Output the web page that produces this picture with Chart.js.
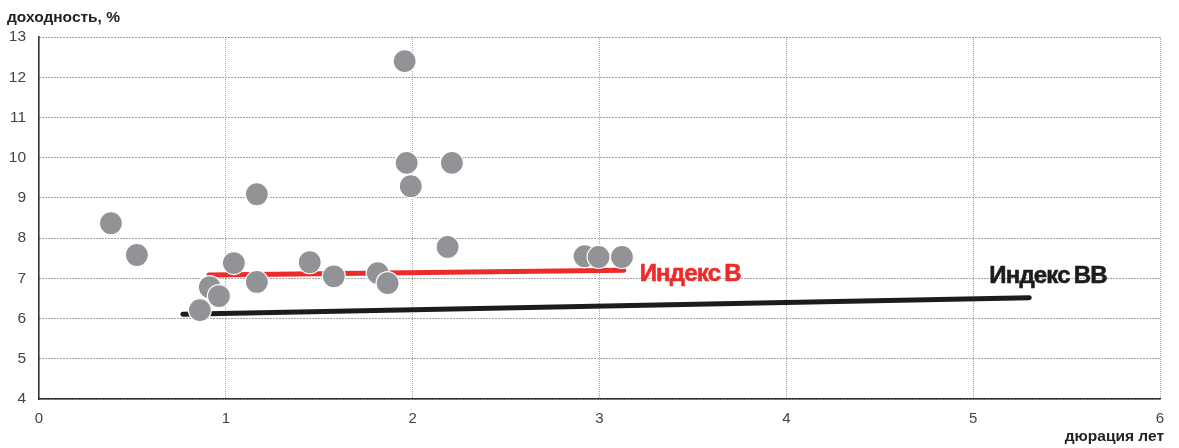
<!DOCTYPE html>
<html>
<head>
<meta charset="utf-8">
<script src="https://cdn.jsdelivr.net/npm/chart.js@4.4.1/dist/chart.umd.min.js"></script>
<style>
  html, body { margin: 0; padding: 0; background: #fff; }
  #wrap { width: 1179px; height: 448px; }
</style>
</head>
<body>
<div id="wrap"><canvas id="c" width="1179" height="448"></canvas></div>
<script>
// Bonds: duration (years) and yield (%)
const durations = [0.385, 0.524, 1.957, 1.968, 2.21, 1.99, 1.166, 2.187, 1.043, 1.449, 1.578, 1.813, 1.866, 1.166, 0.914, 0.963, 0.861, 2.92, 2.995, 3.12];
const yields    = [8.37, 7.58, 12.40, 9.87, 9.87, 9.29, 9.09, 7.78, 7.38, 7.40, 7.05, 7.13, 6.88, 6.91, 6.78, 6.56, 6.21, 7.55, 7.53, 7.53];

// Index curves (start and end points)
const indexBx = [0.91, 3.13];
const indexBy = [7.08, 7.20];
const indexBBx = [0.77, 5.30];
const indexBBy = [6.11, 6.52];

const xTicks = [0, 1, 2, 3, 4, 5, 6];
const yTicks = [4, 5, 6, 7, 8, 9, 10, 11, 12, 13];

const labelB = { word: 'Индекс', tail: 'B', x: 3.215, y: 7.09, color: '#ee2b2b' };
const labelBB = { word: 'Индекс', tail: 'BB', x: 5.086, y: 7.05, color: '#1c1c1c' };

const toPoints = (xs, ys) => xs.map((x, i) => ({ x, y: ys[i] }));

const textPlugin = {
  id: 'texts',
  afterDatasetsDraw(chart) {
    const { ctx, scales: { x, y } } = chart;
    ctx.save();
    ctx.textBaseline = 'middle';
    ctx.textAlign = 'left';
    ctx.font = 'bold 24px "Liberation Sans", Arial, sans-serif';
    ctx.lineJoin = 'round';
    try { ctx.letterSpacing = '-0.8px'; } catch (e) {}
    [labelB, labelBB].forEach(l => {
      const px = x.getPixelForValue(l.x), py = y.getPixelForValue(l.y);
      ctx.fillStyle = l.color;
      ctx.strokeStyle = l.color;
      ctx.lineWidth = 0.6;
      // the index name is set with a narrow gap before its rating letters
      const w = ctx.measureText(l.word).width;
      ctx.fillText(l.word, px, py);
      ctx.strokeText(l.word, px, py);
      ctx.fillText(l.tail, px + w + 4, py);
      ctx.strokeText(l.tail, px + w + 4, py);
    });
    try { ctx.letterSpacing = '0px'; } catch (e) {}
    ctx.fillStyle = '#222';
    ctx.font = 'bold 15.5px "Liberation Sans", Arial, sans-serif';
    ctx.textBaseline = 'alphabetic';
    ctx.fillText('доходность, %', 7, 22);
    ctx.textAlign = 'right';
    ctx.fillText('дюрация лет', 1164, 441);
    ctx.restore();
  }
};

new Chart(document.getElementById('c'), {
  type: 'scatter',
  data: {
    datasets: [
      {
        label: 'bonds',
        data: toPoints(durations, yields),
        backgroundColor: '#929396',
        borderColor: '#ffffff',
        borderWidth: 1.2,
        pointRadius: 11.5,
        pointHoverRadius: 11.5,
        order: 0
      },
      {
        label: 'Индекс B',
        data: toPoints(indexBx, indexBy),
        showLine: true,
        borderColor: '#ee2b2b',
        borderWidth: 5,
        borderCapStyle: 'round',
        pointRadius: 0,
        order: 1
      },
      {
        label: 'Индекс BB',
        data: toPoints(indexBBx, indexBBy),
        showLine: true,
        borderColor: '#1c1c1c',
        borderWidth: 5,
        borderCapStyle: 'round',
        pointRadius: 0,
        order: 2
      }
    ]
  },
  options: {
    responsive: false,
    animation: false,
    events: [],
    layout: { padding: { top: 37, right: 19, bottom: 0, left: 0 } },
    plugins: { legend: { display: false }, tooltip: { enabled: false } },
    scales: {
      x: {
        type: 'linear',
        min: 0, max: 6,
        afterBuildTicks: s => { s.ticks = xTicks.map(v => ({ value: v })); },
        afterFit: s => { s.height = 49; },
        ticks: { padding: 11, color: '#444', font: { size: 15, family: '"Liberation Sans", Arial, sans-serif' } },
        grid: { color: '#a8a8a8', lineWidth: 1, drawTicks: false },
        border: { display: true, color: '#333', width: 1.5, dash: [1, 1] }
      },
      y: {
        type: 'linear',
        min: 4, max: 13,
        afterBuildTicks: s => { s.ticks = yTicks.map(v => ({ value: v })); },
        afterFit: s => { s.width = 39; },
        ticks: { padding: 13, color: '#444', font: { size: 15.5, family: '"Liberation Sans", Arial, sans-serif' } },
        grid: { color: '#444', lineWidth: 1, drawTicks: false },
        border: { display: true, color: '#333', width: 1.5, dash: [1, 2] }
      }
    }
  },
  plugins: [textPlugin]
});
</script>
</body>
</html>
